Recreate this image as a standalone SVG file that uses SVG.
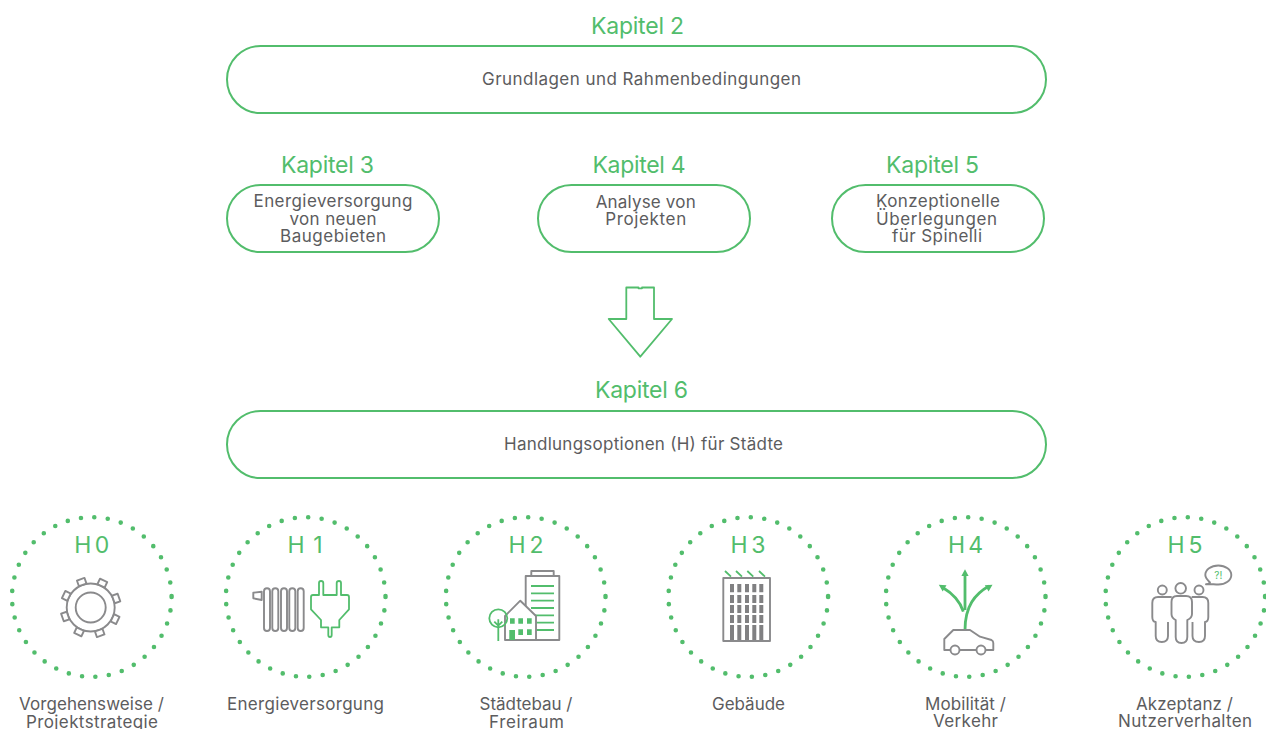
<svg xmlns="http://www.w3.org/2000/svg" width="1266" height="729" viewBox="0 0 1266 729">
<style>
text{font-family:"Inter","Noto Sans","Liberation Sans",sans-serif;text-anchor:middle}
.k{font-size:23px;fill:#52bd6c;font-weight:400}
.t{font-size:17px;fill:#5c5c5e;font-weight:400}
.p{fill:#fff;stroke:#52bd6c;stroke-width:2}
.d{fill:none;stroke:#52bd6c;stroke-width:4.6;stroke-linecap:round;stroke-dasharray:0 13.5}
.g{fill:none;stroke:#8a8a8c;stroke-width:1.9;stroke-linejoin:round}
.gw{fill:#fff;stroke:#8a8a8c;stroke-width:1.9;stroke-linejoin:round}
.l{fill:none;stroke:#52bd6c;stroke-width:1.8;stroke-linejoin:round}
.f{fill:#52bd6c}
.w{fill:#808082}
</style>
<defs><rect id="tooth" class="gw" x="-4" y="-30" width="8" height="6"/></defs>

<g id="kapitel-2"><text class="k" x="637.5" y="34" textLength="93">Kapitel 2</text>
<rect class="p" x="227" y="46" width="819" height="67" rx="33.5"/>
<text class="t" x="641.5" y="84.5" textLength="319">Grundlagen und Rahmenbedingungen</text></g>

<g id="kapitel-3"><text class="k" x="327.5" y="173" textLength="93">Kapitel 3</text>
<rect class="p" x="227" y="185" width="212" height="67" rx="33.5"/>
<text class="t" x="333" y="207" textLength="159">Energieversorgung</text>
<text class="t" x="333" y="225" textLength="87">von neuen</text>
<text class="t" x="333" y="242" textLength="106">Baugebieten</text></g>

<g id="kapitel-4"><text class="k" x="639" y="173" textLength="93">Kapitel 4</text>
<rect class="p" x="538" y="185" width="212" height="67" rx="33.5"/>
<text class="t" x="645.7" y="208" textLength="100">Analyse von</text>
<text class="t" x="645.7" y="225" textLength="81">Projekten</text></g>

<g id="kapitel-5"><text class="k" x="932.5" y="173" textLength="93">Kapitel 5</text>
<rect class="p" x="832" y="185" width="212" height="67" rx="33.5"/>
<text class="t" x="938" y="207" textLength="124">Konzeptionelle</text>
<text class="t" x="936.5" y="225" textLength="121">Überlegungen</text>
<text class="t" x="937" y="242" textLength="90">für Spinelli</text></g>

<g id="connectors"><path class="l" d="M626.3 287.5H638.5V288.3H642V287.5H654V319H672L640.3 356.7L608.7 319H626.3Z"/></g>

<g id="kapitel-6"><text class="k" x="641.5" y="398" textLength="93">Kapitel 6</text>
<rect class="p" x="227" y="411" width="819" height="67" rx="33.5"/>
<text class="t" x="643.5" y="450" textLength="279">Handlungsoptionen (H) für Städte</text></g>

<g id="h0"><circle class="d" cx="91.8" cy="597" r="79.8"/>
<text class="k" x="91.8" y="552.7" textLength="35">H 0</text>
<circle class="g" cx="90.7" cy="607.5" r="24"/><circle class="g" cx="90.7" cy="607.5" r="15"/>
<g transform="translate(90.7 607.5)"><use href="#tooth" transform="rotate(-19.5)"/><use href="#tooth" transform="rotate(25.5)"/><use href="#tooth" transform="rotate(70.5)"/><use href="#tooth" transform="rotate(115.5)"/><use href="#tooth" transform="rotate(160.5)"/><use href="#tooth" transform="rotate(205.5)"/><use href="#tooth" transform="rotate(250.5)"/><use href="#tooth" transform="rotate(295.5)"/></g>
<text class="t" x="91.5" y="710" textLength="145">Vorgehensweise /</text>
<text class="t" x="92" y="728" textLength="132">Projektstrategie</text></g>

<g id="h1"><circle class="d" cx="305.7" cy="597" r="79.8"/>
<text class="k" x="305" y="552.7" textLength="35">H 1</text>
<path class="g" d="M253.3 592.7L261.7 591.7V600L253.3 598.3Z"/>
<rect class="g" x="264" y="588.3" width="6" height="42.7" rx="3"/><rect class="g" x="272.3" y="588.3" width="6" height="42.7" rx="3"/><rect class="g" x="281" y="588.3" width="6" height="42.7" rx="3"/><rect class="g" x="289.3" y="588.3" width="6" height="42.7" rx="3"/><rect class="g" x="297.7" y="588.3" width="6" height="42.7" rx="3"/>
<path class="l" d="M319 595V583Q319 581 321 581Q323.3 581 323.3 583V595H336.7V583Q336.7 581 339 581Q341 581 341 583V595H347Q349 595 349 597V609.3L339.3 620V627.3H331.7V635Q331.7 637 330 637Q328.3 637 328.3 635V627.3H321V620L311 609.3V597Q311 595 313 595Z"/>
<text class="t" x="305.5" y="710" textLength="157">Energieversorgung</text></g>

<g id="h2"><circle class="d" cx="525.7" cy="597" r="79.8"/>
<text class="k" x="526" y="552.7" textLength="35">H 2</text>
<path class="g" d="M531.3 576V571H553.7V576"/>
<rect class="gw" x="525.7" y="576" width="33.6" height="64"/>
<path class="l" d="M531 586H554M531 593.3H554M531 600.7H554M531 608H554M531 615.3H554M531 622.7H554M531 630H554"/>
<path class="gw" d="M505 640V616L520.3 600.7L536 616V640Z"/>
<path class="f" d="M510 618.3h4.7v5.4H510zM518.3 618.3h4.7v5.4h-4.7zM527 618.3h4.7v5.4H527zM518.3 629.3h4.7V635h-4.7zM527 629.3h4.7V635H527zM509.3 630H515v10h-5.7z"/>
<circle class="l" cx="498.3" cy="618.3" r="9"/>
<path class="l" d="M498.3 619.3V641M494.3 621.7L498.3 625.7L502.3 621.7"/>
<text class="t" x="526" y="710" textLength="93">Städtebau /</text>
<text class="t" x="526.5" y="728" textLength="75">Freiraum</text></g>

<g id="h3"><circle class="d" cx="748.3" cy="597" r="79.8"/>
<text class="k" x="748" y="552.7" textLength="35">H 3</text>
<path class="l" d="M725 571L731 576.7M736 571L742 576.7M747.3 571L753.3 576.7M759 571L765 576.7"/>
<rect class="g" x="723.3" y="578" width="46.7" height="63"/>
<path class="w" d="M730 584h4v8.3h-4zM737.3 584h4v8.3h-4zM745 584h4v8.3h-4zM752.3 584h4v8.3h-4zM759.3 584h4v8.3h-4zM730 595h4v8h-4zM737.3 595h4v8h-4zM745 595h4v8h-4zM752.3 595h4v8h-4zM759.3 595h4v8h-4zM730 605h4v8h-4zM737.3 605h4v8h-4zM745 605h4v8h-4zM752.3 605h4v8h-4zM759.3 605h4v8h-4zM730 615h4v8h-4zM737.3 615h4v8h-4zM745 615h4v8h-4zM752.3 615h4v8h-4zM759.3 615h4v8h-4zM730 625h4v15h-4zM737.3 625h4v15h-4zM745 625h4v15h-4zM752.3 625h4v15h-4zM759.3 625h4v15h-4z"/>
<text class="t" x="748.5" y="710" textLength="73">Gebäude</text></g>

<g id="h4"><circle class="d" cx="965.7" cy="597" r="79.8"/>
<text class="k" x="965.5" y="552.7" textLength="35">H 4</text>
<path class="l" style="stroke-width:2.8" d="M965 630C965 606 975 594 989 586M963.3 611.7C960 600 952 593 942 587M965 610V574"/>
<path class="f" d="M965 569.3L961.4 576H968.6ZM992.5 584.8L984.8 585.3L988.6 591.6ZM938.8 584.8L946.5 585.3L942.7 591.6Z"/>
<path class="g" d="M950.5 650H944.3V639L953.3 630H970L980 636.7L991.5 640Q993.3 641 993.3 643V650H985.5M976.5 650H959.5"/>
<circle class="g" cx="955" cy="650" r="4.5"/><circle class="g" cx="981" cy="650" r="4.5"/>
<text class="t" x="965.5" y="710" textLength="81">Mobilität /</text>
<text class="t" x="965.5" y="727" textLength="65">Verkehr</text></g>

<g id="h5"><circle class="d" cx="1185.3" cy="597" r="79.8"/>
<text class="k" x="1185" y="552.7" textLength="35">H 5</text>
<path class="g" d="M1210 582.5C1206.5 579 1205.3 577 1205.3 575C1205.3 569.7 1211 565.5 1218.3 565.5C1225.5 565.5 1231.3 569.7 1231.3 575C1231.3 580.3 1225.5 584.5 1218.3 584.5C1215 584.5 1212 584 1209 584Q1207.5 584.5 1206 584.3Q1209 584 1210 582.5Z"/>
<text x="1218.3" y="579" style="font-size:10px;fill:#52bd6c">?!</text>
<circle class="g" cx="1162.3" cy="590" r="4.5"/><circle class="g" cx="1180.7" cy="588.3" r="5.3"/><circle class="g" cx="1199" cy="590" r="4.5"/>
<path class="g" d="M1171.7 597H1158Q1152.3 597 1152.3 603V617Q1152.3 621.7 1155.7 622V636Q1155.7 642 1161.8 642Q1168 642 1168 636V622"/>
<path class="g" d="M1191.7 597H1202.5Q1208.3 597 1208.3 603V617Q1208.3 621.7 1205 622V636Q1205 642 1199 642Q1192.5 642 1192.5 636V622"/>
<path class="gw" d="M1177 596H1186Q1192 596 1192 602V614Q1192 618 1187.3 620V637Q1187.3 643 1181.5 643Q1175.7 643 1175.7 637V620Q1171.5 618 1171.5 614V602Q1171.5 596 1177 596Z"/>
<text class="t" x="1184.5" y="710" textLength="97">Akzeptanz /</text>
<text class="t" x="1185" y="727" textLength="134">Nutzerverhalten</text></g>
</svg>
